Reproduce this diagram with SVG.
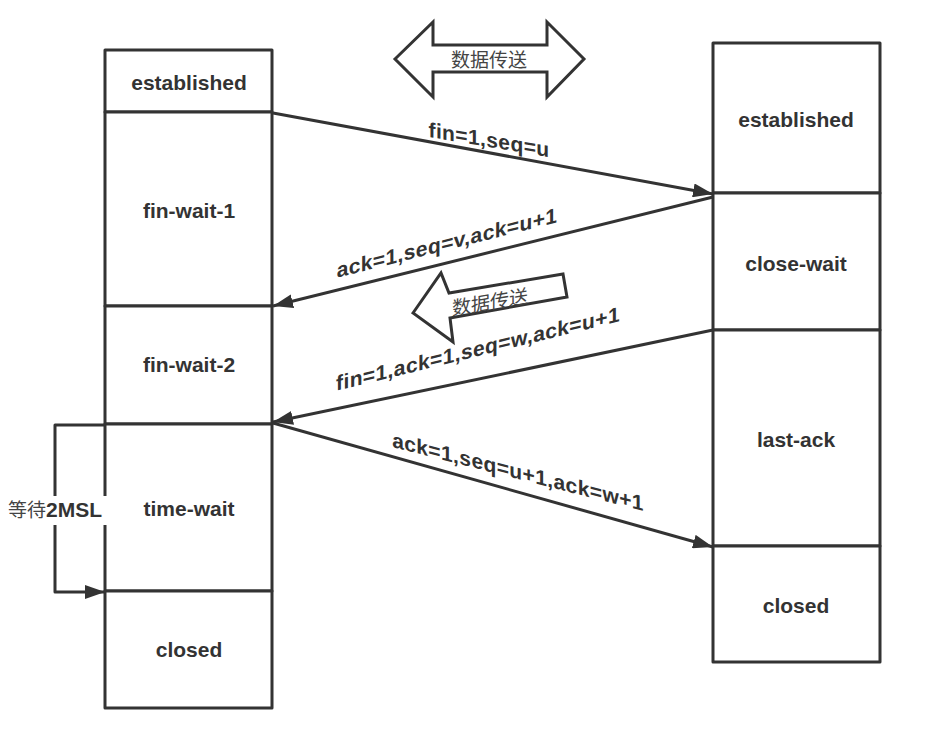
<svg xmlns="http://www.w3.org/2000/svg" width="930" height="735" viewBox="0 0 930 735">
<style>
.box{fill:#fff;stroke:#333;stroke-width:3;stroke-linejoin:round}
.lbl{font-family:"Liberation Sans","DejaVu Sans",sans-serif;font-weight:bold;font-size:21px;fill:#333;text-anchor:middle}
.el{letter-spacing:0.4px}
.edge{fill:none;stroke:#333;stroke-width:3;stroke-linejoin:round}
.cn{font-family:"Noto Sans CJK SC","Noto Sans",sans-serif;font-size:19px;fill:#444}
.big{fill:#fff;stroke:#333;stroke-width:3;stroke-linejoin:miter}
</style>
<defs>
<marker id="ah" markerUnits="userSpaceOnUse" viewBox="0 0 20 14" markerWidth="20" markerHeight="14" refX="20" refY="7" orient="auto">
<path d="M0,0 L20,7 L0,14 z" fill="#333"/>
</marker>
</defs>
<rect width="930" height="735" fill="#fff"/>

<g id="bidir-transfer">
<polygon class="big" points="395,59 433,22 433,45 547,45 547,22 584,59 547,97 547,72 433,72 433,97"/>
<text class="cn" x="489" y="67" text-anchor="middle">数据传送</text>
</g>

<g id="left-established"><rect class="box" x="105" y="50" width="167" height="62"/><text class="lbl" x="189" y="90">established</text></g>
<g id="left-fin-wait-1"><rect class="box" x="105" y="112" width="167" height="194"/><text class="lbl" x="189" y="218">fin-wait-1</text></g>
<g id="left-fin-wait-2"><rect class="box" x="105" y="306" width="167" height="118"/><text class="lbl" x="189" y="372">fin-wait-2</text></g>
<g id="left-time-wait"><rect class="box" x="105" y="424" width="167" height="167"/><text class="lbl" x="189" y="516">time-wait</text></g>
<g id="left-closed"><rect class="box" x="105" y="591" width="167" height="117"/><text class="lbl" x="189" y="657">closed</text></g>

<g id="right-established"><rect class="box" x="713" y="43" width="167" height="150"/><text class="lbl" x="796" y="127">established</text></g>
<g id="right-close-wait"><rect class="box" x="713" y="193" width="167" height="137"/><text class="lbl" x="796" y="271">close-wait</text></g>
<g id="right-last-ack"><rect class="box" x="713" y="330" width="167" height="216"/><text class="lbl" x="796" y="447">last-ack</text></g>
<g id="right-closed"><rect class="box" x="713" y="546" width="167" height="116"/><text class="lbl" x="796" y="613">closed</text></g>

<g id="left-transfer">
<polygon class="big" points="413,313 441,273 449,293 563,274 567,297 450,318 453,342"/>
<text class="cn" transform="translate(490,302) skewY(-9.5)" x="0" y="7" text-anchor="middle">数据传送</text>
</g>

<g id="connectors">
<line class="edge" x1="273" y1="113" x2="713" y2="194" marker-end="url(#ah)"/>
<line class="edge" x1="713" y1="197" x2="273" y2="306" marker-end="url(#ah)"/>
<line class="edge" x1="713" y1="330" x2="273" y2="422" marker-end="url(#ah)"/>
<line class="edge" x1="273" y1="423" x2="713" y2="547" marker-end="url(#ah)"/>
<path class="edge" d="M105,425 H55 V592 H105" marker-end="url(#ah)"/>
<text class="lbl el" transform="translate(489,147) skewY(9.5)">fin=1,seq=u</text>
<text class="lbl el" transform="translate(447,250) skewY(-14.1)">ack=1,seq=v,ack=u+1</text>
<text class="lbl el" transform="translate(478,356) skewY(-13.8)">fin=1,ack=1,seq=w,ack=u+1</text>
<text class="lbl el" transform="translate(518,479) skewY(14.3)">ack=1,seq=u+1,ack=w+1</text>
<rect x="4" y="496" width="105" height="29" fill="#fff"/>
<text x="8" y="517" font-size="21"><tspan class="cn" font-size="20">等待</tspan><tspan font-family="Liberation Sans, DejaVu Sans, sans-serif" font-weight="bold" fill="#333">2MSL</tspan></text>
</g>
</svg>
